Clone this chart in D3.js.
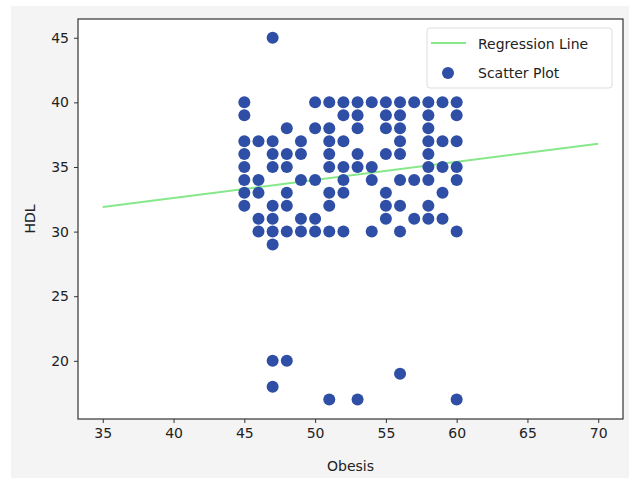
<!DOCTYPE html>
<html>
<head>
<meta charset="utf-8">
<script src="https://d3js.org/d3.v7.min.js"></script>
<style>
  body { margin: 0; background: #fff; }
  text { font-family: "DejaVu Sans", sans-serif; fill: #222; }
</style>
</head>
<body>
<svg width="629" height="480"></svg>
<script>
// obesis values per column, each with the hdl values seen at that x
var obesis = [45, 46, 47, 48, 49, 50, 51, 52, 53, 54, 55, 56, 57, 58, 59, 60];
var hdl = [
  [40, 39, 37, 36, 35, 34, 33, 32],
  [37, 34, 33, 31, 30],
  [45, 37, 36, 35, 32, 31, 30, 29, 20, 18],
  [38, 36, 35, 33, 32, 30, 20],
  [37, 36, 34, 31, 30],
  [40, 38, 34, 31, 30],
  [40, 38, 37, 36, 35, 33, 32, 30, 17],
  [40, 39, 37, 35, 34, 33, 30],
  [40, 39, 38, 36, 35, 17],
  [40, 35, 34, 30],
  [40, 39, 38, 36, 33, 32, 31],
  [40, 39, 38, 37, 36, 34, 32, 30, 19],
  [40, 34, 31],
  [40, 39, 38, 37, 36, 35, 34, 32, 31],
  [40, 37, 35, 33, 31],
  [40, 39, 37, 35, 34, 30, 17]
];
// regression line end points
var lineX = [35, 70];
var lineY = [31.9, 36.8];
var xTicks = [35, 40, 45, 50, 55, 60, 65, 70];
var yTicks = [20, 25, 30, 35, 40, 45];

var svg = d3.select("svg");

// figure background
svg.append("rect").attr("x", 11).attr("y", 6).attr("width", 618).attr("height", 472).attr("fill", "#f4f4f4");

var pLeft = 78, pRight = 623, pTop = 19, pBottom = 419;
var x = d3.scaleLinear().domain([33.25, 71.75]).range([pLeft, pRight]);
var y = d3.scaleLinear().domain([15.5, 46.45]).range([pBottom, pTop]);

svg.append("rect")
  .attr("x", pLeft).attr("y", pTop)
  .attr("width", pRight - pLeft).attr("height", pBottom - pTop)
  .attr("fill", "#fff");

var points = [];
obesis.forEach(function(o, i) {
  hdl[i].forEach(function(h) { points.push([o, h]); });
});

var plot = svg.append("g");

plot.append("line")
  .attr("x1", x(lineX[0])).attr("y1", y(lineY[0]))
  .attr("x2", x(lineX[1])).attr("y2", y(lineY[1]))
  .attr("stroke", "#86e88a").attr("stroke-width", 2);

plot.selectAll("circle")
  .data(points)
  .enter().append("circle")
  .attr("cx", function(d) { return x(d[0]); })
  .attr("cy", function(d) { return y(d[1]); })
  .attr("r", 6)
  .attr("fill", "#2f4fa6");

// axes
var xAxis = svg.append("g")
  .attr("transform", "translate(0," + pBottom + ")")
  .call(d3.axisBottom(x).tickValues(xTicks).tickSize(4).tickPadding(5));
var yAxis = svg.append("g")
  .attr("transform", "translate(" + pLeft + ",0)")
  .call(d3.axisLeft(y).tickValues(yTicks).tickSize(4).tickPadding(5));
[xAxis, yAxis].forEach(function(a) {
  a.select(".domain").remove();
  a.selectAll("line").attr("stroke", "#333");
  a.selectAll("text").style("font-size", "14px").attr("fill", "#333");
});

svg.append("rect")
  .attr("x", pLeft).attr("y", pTop)
  .attr("width", pRight - pLeft).attr("height", pBottom - pTop)
  .attr("fill", "none").attr("stroke", "#333").attr("stroke-width", 1.2);

svg.append("text")
  .attr("x", (pLeft + pRight) / 2).attr("y", 471)
  .attr("text-anchor", "middle")
  .style("font-size", "14px")
  .text("Obesis");

svg.append("text")
  .attr("transform", "translate(35," + (pTop + pBottom) / 2 + ") rotate(-90)")
  .attr("text-anchor", "middle")
  .style("font-size", "14px")
  .text("HDL");

// legend
var lg = svg.append("g");
lg.append("rect")
  .attr("x", 427).attr("y", 28).attr("width", 185).attr("height", 60)
  .attr("rx", 3)
  .attr("fill", "#fff").attr("stroke", "#ddd");
lg.append("line")
  .attr("x1", 431).attr("x2", 466).attr("y1", 43).attr("y2", 43)
  .attr("stroke", "#86e88a").attr("stroke-width", 2);
lg.append("circle")
  .attr("cx", 448).attr("cy", 73).attr("r", 6).attr("fill", "#2f4fa6");
lg.append("text").attr("x", 478).attr("y", 49).style("font-size", "14px").text("Regression Line");
lg.append("text").attr("x", 478).attr("y", 78).style("font-size", "14px").text("Scatter Plot");
</script>
</body>
</html>
